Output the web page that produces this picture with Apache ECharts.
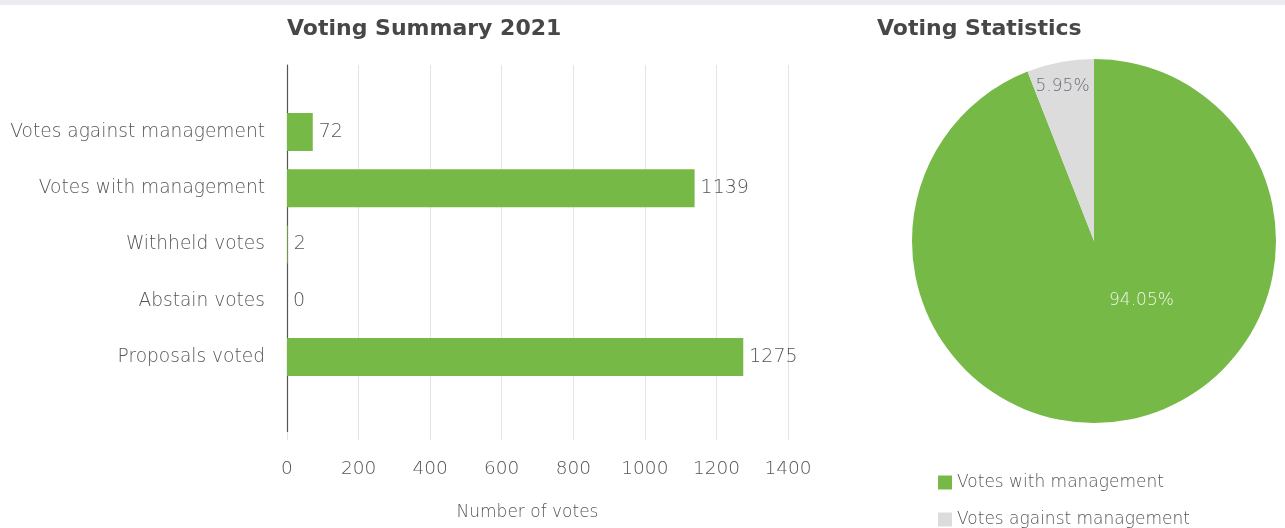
<!DOCTYPE html>
<html>
<head>
<meta charset="utf-8">
<script src="https://cdn.jsdelivr.net/npm/echarts@6/dist/echarts.min.js"></script>
<style>
  html, body { margin: 0; padding: 0; background: #fff; }
  #main { width: 1285px; height: 528px; }
</style>
</head>
<body>
<div id="main"></div>
<script>
// bar chart data
var categories = ['Votes against management', 'Votes with management', 'Withheld votes', 'Abstain votes', 'Proposals voted'];
var votes = [72, 1139, 2, 0, 1275];
var xTicks = [0, 200, 400, 600, 800, 1000, 1200, 1400];

// pie data
var pieNames = ['Votes with management', 'Votes against management'];
var pieShares = [94.05, 5.95];
var pieColors = ['#76b947', '#dcdcdc'];

var green = '#76b947';
var font = 'DejaVu Sans';
var lightText = { fontFamily: font, fontWeight: 200, color: '#555' };

var chart = echarts.init(document.getElementById('main'));

// one legend per item so they stack like the reference
function legendItem(name, top) {
  return {
    orient: 'vertical',
    left: 933, top: top,
    itemWidth: 14, itemHeight: 14,
    icon: 'rect',
    data: [name],
    selectedMode: false,
    textStyle: Object.assign({ fontSize: 17 }, lightText)
  };
}

var option = {
  backgroundColor: '#fff',
  animation: false,
  graphic: [
    { type: 'rect', left: 0, top: 0, shape: { width: 1285, height: 5 }, style: { fill: '#ebebf2' } }
  ],
  title: [
    {
      text: 'Voting Summary 2021',
      left: 282, top: 13,
      textStyle: { fontFamily: font, fontWeight: 'bold', fontSize: 22, color: '#474747' }
    },
    {
      text: 'Voting Statistics',
      left: 872, top: 13,
      textStyle: { fontFamily: font, fontWeight: 'bold', fontSize: 22, color: '#474747' }
    }
  ],
  legend: [
    legendItem(pieNames[0], 469),
    legendItem(pieNames[1], 506)
  ],
  grid: [
    // frame grid: split lines, axis line, tick labels
    { left: 287, top: 65, width: 501, height: 367 },
    // bars
    { left: 287, top: 104, width: 501, height: 281 }
  ],
  xAxis: [
    {
      gridIndex: 0, type: 'value', min: 0, max: 1400, interval: 200,
      axisLine: { show: false },
      axisTick: { show: true, length: 8, lineStyle: { color: '#e4e4e4' } },
      splitLine: { show: true, lineStyle: { color: '#e4e4e4' } },
      axisLabel: Object.assign({
        margin: 28, fontSize: 18.5,
        formatter: function (v) { return xTicks.indexOf(v) >= 0 ? String(v) : ''; }
      }, lightText),
      name: 'Number of votes', nameLocation: 'middle', nameGap: 72,
      nameTextStyle: Object.assign({ fontSize: 17, padding: [0, 20, 0, 0] }, lightText)
    },
    {
      gridIndex: 1, type: 'value', min: 0, max: 1400, interval: 200,
      axisLine: { show: false }, axisTick: { show: false },
      splitLine: { show: false }, axisLabel: { show: false }
    }
  ],
  yAxis: [
    {
      gridIndex: 0, type: 'value', min: 0, max: 1,
      axisLine: { show: true, onZero: false, lineStyle: { color: '#555', width: 1.2 } },
      axisTick: { show: false }, splitLine: { show: false }, axisLabel: { show: false }
    },
    {
      gridIndex: 1, type: 'category', inverse: true, data: categories,
      axisLine: { show: false }, axisTick: { show: false },
      axisLabel: Object.assign({ margin: 22, fontSize: 18.6 }, lightText)
    }
  ],
  series: [
    {
      type: 'bar',
      xAxisIndex: 1, yAxisIndex: 1,
      data: votes,
      barWidth: 38,
      itemStyle: { color: green },
      label: Object.assign({
        show: true, position: 'right', distance: 6, fontSize: 19
      }, lightText)
    },
    {
      type: 'pie',
      center: [1094, 241],
      radius: 182,
      startAngle: 90,
      clockwise: true,
      data: pieNames.map(function (n, i) {
        return {
          name: n,
          value: pieShares[i],
          itemStyle: { color: pieColors[i] },
          label: i === 0
            ? { color: '#eef6e6', offset: [30, -33] }
            : { color: '#6f6b7a', offset: [-14, -62] }
        };
      }),
      label: {
        show: true, position: 'inside',
        fontFamily: font, fontWeight: 200, fontSize: 17,
        formatter: function (p) { return p.value.toFixed(2) + '%'; }
      },
      labelLine: { show: false },
      emphasis: { disabled: true }
    }
  ]
};

chart.setOption(option);
</script>
</body>
</html>
